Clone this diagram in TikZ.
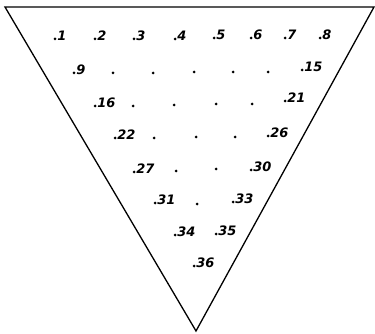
\documentclass[tikz,border=0pt]{standalone}
\usepackage{fontspec}
\newfontfamily\handfont{DejaVu Sans}
\begin{document}
\begin{tikzpicture}[x=1pt,y=-1pt,
  pt/.style={circle,fill=black,inner sep=0pt,minimum size=3pt},
  lbl/.style={anchor=base west,inner sep=0pt,font=\handfont\bfseries\itshape\fontsize{13}{14}\selectfont},
  edge/.style={line width=1.3pt}]
\useasboundingbox (0,0) rectangle (375,334);
\coordinate (A) at (5,7);
\coordinate (B) at (374,7);
\coordinate (C) at (196,331);
\draw[edge,line join=miter] (A) -- (B) -- (C) -- cycle;
\foreach \n/\x/\y in {1/55/39,2/95/39,3/134/39,4/175/39,5/214/38,6/251/38,7/285/38,8/320/38,
  9/74/73,10/113/73,11/153/73,12/194/72,13/233/72,14/268/72,15/302/70,
  16/95/106,17/133/106,18/174/105,19/216/104,20/252/104,21/285/101,
  22/115/138,23/154/138,24/196/137,25/235/137,26/268/136,
  27/134/172,28/176/171,29/216/169,30/251/170,
  31/155/203,32/197/204,33/233/202,
  34/175/235,35/216/234,
  36/194/266}
  \node[pt] (d\n) at (\x,\y) {};
\foreach \n in {1,2,3,4,5,6,7,8,9,15,16,21,22,26,27,30,31,33,34,35,36}
  \node[lbl] (l\n) at ([xshift=2.2pt,yshift=-1.5pt]d\n.center) {\n};
\end{tikzpicture}
\end{document}
